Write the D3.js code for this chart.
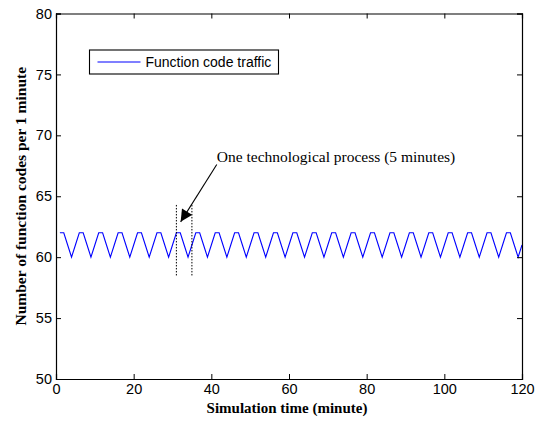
<!DOCTYPE html>
<html>
<head>
<meta charset="utf-8">
<script src="https://cdn.jsdelivr.net/npm/d3@7"></script>
<style>
	body { margin:0; background:#fff; }
	svg { display:block; }
	.tick text { font-family: Arial, "Liberation Sans", sans-serif; font-size:14.5px; fill:#000; }
</style>
</head>
<body>
<svg id="chart"></svg>
<script>
// Function code traffic, one value per minute (t = 1..120)
var minutes = d3.range(1, 121);
var traffic = [
	62,62,61,60,61, 62,62,61,60,61, 62,62,61,60,61, 62,62,61,60,61,
	62,62,61,60,61, 62,62,61,60,61, 62,62,61,60,61, 62,62,61,60,61,
	62,62,61,60,61, 62,62,61,60,61, 62,62,61,60,61, 62,62,61,60,61,
	62,62,61,60,61, 62,62,61,60,61, 62,62,61,60,61, 62,62,61,60,61,
	62,62,61,60,61, 62,62,61,60,61, 62,62,61,60,61, 62,62,61,60,61,
	62,62,61,60,61, 62,62,61,60,61, 62,62,61,60,61, 62,62,61,60,61
];
var xTicks = [0, 20, 40, 60, 80, 100, 120];
var yTicks = [50, 55, 60, 65, 70, 75, 80];
var seriesName = 'Function code traffic';

// annotation: one process marked by two dotted lines and an arrow
var processMarks = [31, 35];
var markRange = [58.5, 64.3];
var arrowFrom = [41.4, 67.6], arrowTo = [32.1, 62.9];
var noteText = 'One technological process (5 minutes)';

var W = 537, H = 423;
var m = { left:56, right:15, top:13.5, bottom:44 };

var svg = d3.select('#chart').attr('width', W).attr('height', H);

var x = d3.scaleLinear().domain([0, 120]).range([m.left, W - m.right]);
var y = d3.scaleLinear().domain([50, 80]).range([H - m.bottom, m.top]);

var defs = svg.append('defs');
defs.append('marker')
	.attr('id', 'arrow')
	.attr('viewBox', '0 0 10 10')
	.attr('refX', 10).attr('refY', 5)
	.attr('markerWidth', 14).attr('markerHeight', 12)
	.attr('markerUnits', 'userSpaceOnUse')
	.attr('orient', 'auto')
	.append('path')
	.attr('d', 'M0,0L10,5L0,10z')
	.attr('fill', '#000');

// series line
var line = d3.line()
	.x(function(d, i){ return x(minutes[i]); })
	.y(function(d){ return y(d); });

svg.append('path')
	.datum(traffic)
	.attr('d', line)
	.attr('fill', 'none')
	.attr('stroke', '#0000ff')
	.attr('stroke-width', 1.1);

// axes (ticks pointing inwards, on all four sides)
var fmt = d3.format('d');
var gx = svg.append('g').attr('transform', 'translate(0,' + y(50) + ')')
	.call(d3.axisBottom(x).tickValues(xTicks).tickFormat(fmt).tickSize(-5).tickPadding(10));
var gy = svg.append('g').attr('transform', 'translate(' + x(0) + ',0)')
	.call(d3.axisLeft(y).tickValues(yTicks).tickFormat(fmt).tickSize(-5).tickPadding(4));
var gt = svg.append('g').attr('transform', 'translate(0,' + y(80) + ')')
	.call(d3.axisTop(x).tickValues(xTicks).tickFormat('').tickSize(-5));
var gr = svg.append('g').attr('transform', 'translate(' + x(120) + ',0)')
	.call(d3.axisRight(y).tickValues(yTicks).tickFormat('').tickSize(-5));

[gx, gy, gt, gr].forEach(function(g){
	g.select('.domain').attr('stroke', '#000').attr('stroke-width', 1.2);
	g.selectAll('.tick line').attr('stroke', '#000').attr('stroke-width', 1);
});
gx.selectAll('.tick text').attr('dy', '0.71em').attr('y', 5);
gy.selectAll('.tick text').attr('x', -4);

// axis titles
svg.append('text')
	.attr('x', (x(0) + x(120)) / 2 - 2).attr('y', 413)
	.attr('text-anchor', 'middle')
	.style('font-family', '"Liberation Serif", "Times New Roman", serif')
	.style('font-weight', 'bold').style('font-size', '15px')
	.text('Simulation time (minute)');

svg.append('text')
	.attr('transform', 'translate(26,' + ((y(50) + y(80)) / 2) + ') rotate(-90)')
	.attr('text-anchor', 'middle')
	.style('font-family', '"Liberation Serif", "Times New Roman", serif')
	.style('font-weight', 'bold').style('font-size', '15.5px')
	.text('Number of function codes per 1 minute');

// annotation
svg.selectAll('line.mark')
	.data(processMarks)
	.enter().append('line')
	.attr('class', 'mark')
	.attr('x1', function(d){ return x(d); }).attr('x2', function(d){ return x(d); })
	.attr('y1', y(markRange[0])).attr('y2', y(markRange[1]))
	.attr('stroke', '#000').attr('stroke-width', 1)
	.attr('stroke-dasharray', '1.5,1.5');

svg.append('line')
	.attr('x1', x(arrowFrom[0])).attr('y1', y(arrowFrom[1]))
	.attr('x2', x(arrowTo[0])).attr('y2', y(arrowTo[1]))
	.attr('stroke', '#000').attr('stroke-width', 1.1)
	.attr('marker-end', 'url(#arrow)');

svg.append('text')
	.attr('x', x(arrowFrom[0])).attr('y', 162)
	.style('font-family', '"Liberation Serif", "Times New Roman", serif')
	.style('font-size', '15.5px')
	.text(noteText);

// legend
var lg = svg.append('g').attr('transform', 'translate(89.5,50)');
lg.append('rect')
	.attr('width', 189).attr('height', 24)
	.attr('fill', '#fff').attr('stroke', '#000').attr('stroke-width', 1.1);
lg.append('line')
	.attr('x1', 8).attr('x2', 51).attr('y1', 12).attr('y2', 12)
	.attr('stroke', '#0000ff').attr('stroke-width', 1.1);
lg.append('text')
	.attr('x', 56).attr('y', 17)
	.style('font-family', 'Arial, "Liberation Sans", sans-serif')
	.style('font-size', '14px')
	.text(seriesName);
</script>
</body>
</html>
